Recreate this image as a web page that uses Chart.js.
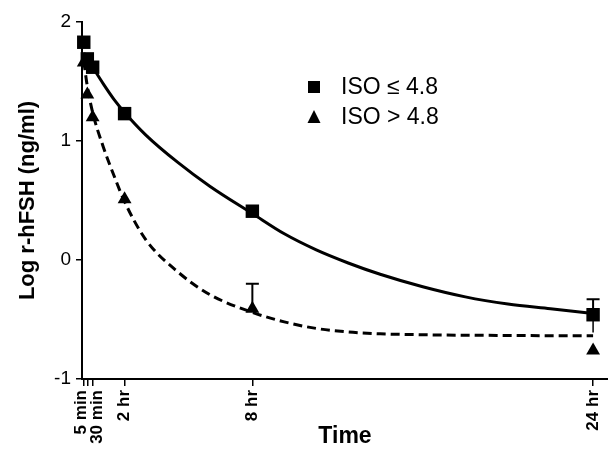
<!DOCTYPE html>
<html>
<head>
<meta charset="utf-8">
<script src="https://cdn.jsdelivr.net/npm/chart.js@4.4.0/dist/chart.umd.min.js"></script>
<style>
  html, body { margin: 0; padding: 0; background: #fff; }
  #wrap { width: 608px; height: 452px; }
</style>
</head>
<body>
<div id="wrap"><canvas id="fshChart"></canvas></div>
<script>
// Sampling times (hours) and measured means
const times = [0.083, 0.25, 0.5, 2, 8, 24];
const isoLow = [1.83, 1.69, 1.62, 1.23, 0.41, -0.46];
const isoHigh = [1.66, 1.39, 1.20, 0.51, -0.41, -0.76];
const isoLowErrUp = [0, 0, 0, 0, 0, 0.13];
const isoLowErrDown = [0, 0, 0, 0, 0, 0.15];
const isoHighErrUp = [0, 0, 0, 0, 0.21, 0];
const isoHighErrDown = [0, 0, 0, 0, 0, 0];

// Fitted curves
const fitTimes = [0.083, 0.25, 0.5, 1, 1.5, 2, 3, 4.5, 6, 8, 9.5, 11, 12.5, 14, 16, 18, 20, 22, 24];
const fitLow = [1.74, 1.69, 1.62, 1.48, 1.35, 1.24, 1.05, 0.82, 0.62, 0.39, 0.22, 0.085, -0.025, -0.12, -0.225, -0.31, -0.37, -0.41, -0.45];
const fitHigh = [1.67, 1.46, 1.24, 0.95, 0.71, 0.49, 0.17, -0.10, -0.29, -0.44, -0.52, -0.575, -0.605, -0.62, -0.628, -0.632, -0.634, -0.636, -0.637];

// X tick positions and labels
const tickValues = [0.083, 0.25, 0.5, 2, 8, 24];
const tickLabels = ["5 min", "", "30 min", "2 hr", "8 hr", "24 hr"];
const tickShift = [-2, 0, 5, 0, 0, 0];

const FONT = "'Liberation Sans', Arial, sans-serif";

const toXY = (xs, ys) => xs.map((x, i) => ({ x: x, y: ys[i] }));

// error bars with cap on top
const errorBars = {
    id: "errorBars",
    afterDatasetsDraw(chart) {
        const ctx = chart.ctx;
        const xs = chart.scales.x, ys = chart.scales.y;
        const sets = [[isoLow, isoLowErrUp, isoLowErrDown], [isoHigh, isoHighErrUp, isoHighErrDown]];
        ctx.save();
        ctx.strokeStyle = "#000";
        sets.forEach(([vals, up, down]) => {
            vals.forEach((v, i) => {
                const px = xs.getPixelForValue(times[i]);
                if (up[i] > 0) {
                    const top = ys.getPixelForValue(v + up[i]);
                    ctx.lineWidth = 2;
                    ctx.beginPath();
                    ctx.moveTo(px, ys.getPixelForValue(v));
                    ctx.lineTo(px, top);
                    ctx.moveTo(px - 6.5, top);
                    ctx.lineTo(px + 6.5, top);
                    ctx.stroke();
                }
                if (down[i] > 0) {
                    ctx.lineWidth = 1.5;
                    ctx.beginPath();
                    ctx.moveTo(px, ys.getPixelForValue(v));
                    ctx.lineTo(px, ys.getPixelForValue(v - down[i]));
                    ctx.stroke();
                }
            });
        });
        ctx.restore();
    }
};

// rotated x labels and legend
const extraText = {
    id: "extraText",
    afterDraw(chart) {
        const ctx = chart.ctx;
        const xs = chart.scales.x;
        ctx.save();
        ctx.fillStyle = "#000";
        ctx.font = "bold 17px " + FONT;
        ctx.textAlign = "right";
        ctx.textBaseline = "middle";
        tickValues.forEach((v, i) => {
            if (!tickLabels[i]) return;
            const px = xs.getPixelForValue(v) + tickShift[i];
            ctx.save();
            ctx.translate(px, chart.chartArea.bottom + 11);
            ctx.rotate(-Math.PI / 2);
            ctx.fillText(tickLabels[i], 0, 0);
            ctx.restore();
        });

        // legend
        ctx.font = "23px " + FONT;
        ctx.textAlign = "left";
        const rows = [chart.data.datasets[2], chart.data.datasets[3]];
        rows.forEach((ds, i) => {
            const cy = 87 + i * 30;
            ctx.beginPath();
            if (ds.pointStyle === "rect") {
                ctx.rect(308, cy - 6, 12, 12);
            } else {
                ctx.moveTo(314, cy - 7);
                ctx.lineTo(320.5, cy + 6);
                ctx.lineTo(307.5, cy + 6);
                ctx.closePath();
            }
            ctx.fill();
            ctx.fillText(ds.label, 341, cy + 1);
        });
        ctx.restore();
    }
};

const canvas = document.getElementById("fshChart");
new Chart(canvas.getContext("2d"), {
    type: "scatter",
    data: {
        datasets: [
            {
                type: "line",
                label: "fit ISO <= 4.8",
                data: toXY(fitTimes, fitLow),
                borderColor: "#000",
                borderWidth: 3,
                pointRadius: 0,
                cubicInterpolationMode: "monotone",
                fill: false
            },
            {
                type: "line",
                label: "fit ISO > 4.8",
                data: toXY(fitTimes, fitHigh),
                borderColor: "#000",
                borderWidth: 3,
                borderDash: [9, 5],
                pointRadius: 0,
                cubicInterpolationMode: "monotone",
                fill: false
            },
            {
                label: "ISO ≤ 4.8",
                data: toXY(times, isoLow),
                pointStyle: "rect",
                pointRadius: 9.5,
                backgroundColor: "#000",
                borderColor: "#000",
                borderWidth: 0,
                clip: false
            },
            {
                label: "ISO > 4.8",
                data: toXY(times, isoHigh),
                pointStyle: "triangle",
                pointRadius: 8,
                backgroundColor: "#000",
                borderColor: "#000",
                borderWidth: 0,
                clip: false
            }
        ]
    },
    options: {
        responsive: true,
        maintainAspectRatio: false,
        animation: false,
        layout: { autoPadding: false, padding: { top: 22, right: 0, left: 0, bottom: 0 } },
        plugins: {
            legend: { display: false },
            tooltip: { enabled: false }
        },
        elements: { point: { hoverRadius: 0 } },
        scales: {
            x: {
                type: "linear",
                min: 0,
                max: 24.7,
                afterBuildTicks: s => { s.ticks = tickValues.map(v => ({ value: v })); },
                afterFit: s => { s.height = 73; },
                ticks: { display: false },
                grid: { display: true, drawOnChartArea: false, drawTicks: true, tickLength: 7, color: "#000", lineWidth: 1.5 },
                border: { display: true, color: "#000", width: 2 },
                title: {
                    display: true,
                    text: "Time",
                    color: "#000",
                    font: { family: FONT, size: 23, weight: "bold" },
                    padding: { top: 0, bottom: 2 }
                }
            },
            y: {
                min: -1,
                max: 2,
                afterFit: s => { s.width = 82; },
                ticks: { stepSize: 1, color: "#000", padding: 5, font: { family: FONT, size: 19 } },
                grid: { display: true, drawOnChartArea: false, drawTicks: true, tickLength: 6, color: "#000", lineWidth: 1.5 },
                border: { display: true, color: "#000", width: 2 },
                title: {
                    display: true,
                    text: "Log r-hFSH (ng/ml)",
                    color: "#000",
                    font: { family: FONT, size: 22, weight: "bold" },
                    padding: { top: 15, bottom: 0 }
                }
            }
        }
    },
    plugins: [errorBars, extraText]
});
</script>
</body>
</html>
